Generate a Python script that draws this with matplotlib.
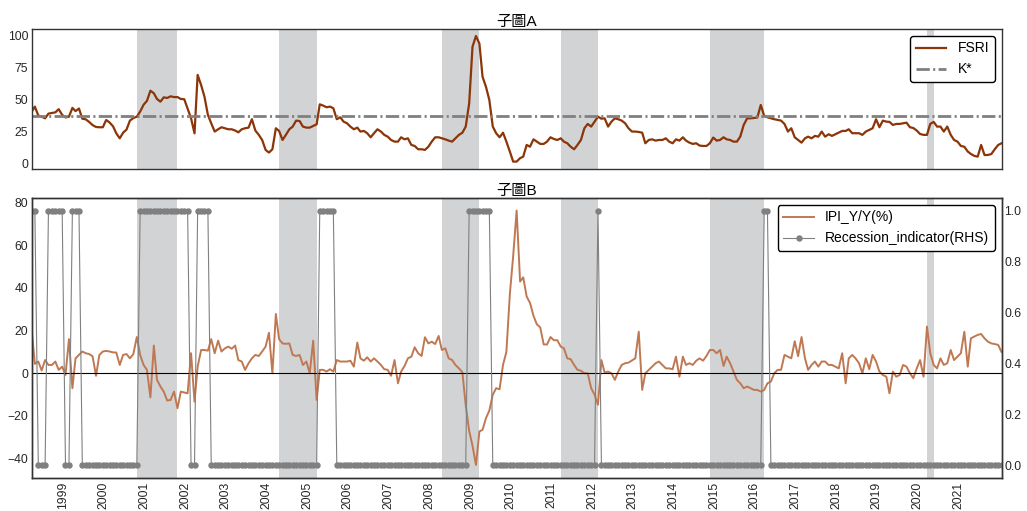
import numpy as np
import pandas as pd
import matplotlib
matplotlib.use("Agg")
import matplotlib.pyplot as plt

plt.rcParams['font.family'] = ['Liberation Sans', 'Noto Sans CJK TC', 'DejaVu Sans']

# monthly data, Feb 1998 - Dec 2021
dates = pd.date_range('1998-02-01', '2021-12-01', freq='MS')

fsri = [
    40.6, 44.5, 37.5, 36.6, 35.3, 39, 39.5, 40, 42.5, 38, 36,            # 1998
    36.6, 43.5, 41, 43, 35, 34.5, 32.5, 30, 28.5, 28.3, 28.3, 34,        # 1999
    32, 29, 23.5, 19.6, 24, 26.5, 33.5, 35.5, 36.6, 40.6, 46, 49,        # 2000
    57, 55, 50.5, 48.4, 51.8, 51.3, 52.6, 52, 52, 50.5, 50.3, 43,        # 2001
    35.3, 23.5, 69.4, 61.5, 52.4, 38, 31.4, 24.9, 26.7, 28.3, 27.5, 26.7,  # 2002
    26.7, 25.7, 24.3, 26.7, 27.5, 28, 34.6, 25.7, 22.3, 18.3, 10.5, 8.4,   # 2003
    11, 27.5, 25.4, 18.3, 22.3, 26.7, 28.8, 33.5, 33.2, 28.8, 28, 28,      # 2004
    29.3, 30.6, 46.3, 45.3, 44, 44.5, 43.2, 34.6, 36.1, 32.7, 31.4, 28.8,  # 2005
    26.7, 28, 24.9, 25.4, 23.6, 20.4, 23.6, 26.7, 24.9, 22.3, 20.9, 18.3,  # 2006
    17, 17, 20.4, 18.8, 19.6, 14.4, 13.6, 11, 11, 10.5, 13, 17,            # 2007
    20.4, 20.4, 19.6, 18.8, 17.8, 17, 19.6, 22.3, 24, 28.8, 47, 91.6,      # 2008
    100, 94, 68, 60, 49.7, 28.8, 23.6, 20.4, 24, 17, 9.2, 1.3,             # 2009
    1.3, 4, 5.2, 14.4, 13, 18.8, 17, 15.2, 15.2, 17, 20.4, 19.1,           # 2010
    18.3, 19.6, 17, 15.7, 13, 11, 14.4, 18.3, 27.5, 30.9, 28.8, 32.7,      # 2011
    36.6, 35, 35.3, 28.8, 32.7, 35.3, 34.6, 33.5, 31.4, 27.5, 24.9, 24.9,  # 2012
    24.6, 24, 15.7, 18.3, 18.8, 17.8, 18.3, 18.3, 19.6, 17, 15.7, 18.8,    # 2013
    17.8, 20.4, 17.8, 16.2, 15.2, 15.7, 13.9, 13.6, 13.6, 15.7, 20.2, 17.8,  # 2014
    18.3, 20.4, 18.8, 18.3, 17, 17, 20.9, 30.1, 35.3, 35.3, 35.6, 35.9,    # 2015
    45.8, 37.2, 36.1, 35.3, 34.6, 34, 33.5, 30.9, 24.9, 27.5, 20.4, 18.3,  # 2016
    16.2, 19.6, 20.9, 19.6, 21.5, 20.9, 24.9, 20.9, 22.8, 21.5, 22.8, 24,  # 2017
    25.4, 25.4, 26.7, 23.6, 23.6, 23.6, 22.3, 24.9, 26.2, 27.5, 34.6, 28.3,  # 2018
    33.5, 32.7, 32.5, 30.1, 30.9, 30.9, 31.4, 31.9, 28.3, 27.7, 25.7, 23,  # 2019
    22.3, 22.3, 30.9, 32.5, 28.8, 28.8, 24.9, 28.8, 22.3, 18.3, 17, 13.6,  # 2020
    13, 9.2, 7.3, 5.8, 5.2, 14.4, 6.5, 6.5, 7.3, 11, 14.4, 15.7,           # 2021
]

ipi = [
    20, 4.4, 5.5, 1.3, 6.2, 3.9, 3.9, 5.5, 1.6, 3.1, -0.8,                 # 1998
    16, -7, 7, 8.6, 10.2, 9.4, 9, 8, -1.2, 8.6, 10.2, 10.5,                # 1999
    10.2, 9.8, 9.7, 3.9, 8.6, 9, 7, 9, 17, 8.6, 3.9, 1.6,                  # 2000
    -11.3, 13, -3.1, -6.2, -8.6, -12.8, -12.5, -8.6, -16.4, -8.6, -9, -9.4,  # 2001
    9.4, -13.3, 3.1, 10.9, 10.9, 10.6, 16, 9.4, 15.3, 10.2, 11.7, 12.5,    # 2002
    11.5, 13, 6.2, 5.5, 1.6, 4.7, 7, 8.6, 8.1, 10.2, 12.5, 19,             # 2003
    0, 27.8, 16, 14, 13.8, 14, 8.6, 8.1, 8.6, 3.9, 5.5, 0,                 # 2004
    15.3, -12.5, 1.6, 1.6, 0.8, 1.9, 0.8, 6.2, 5.5, 5.5, 5.5, 5.9,         # 2005
    3.1, 14.4, 7, 5.9, 7.5, 5.5, 7, 5.5, 3.9, 1.9, 1.6, -1.2,              # 2006
    6.2, -4.7, 0.8, 3.4, 7, 7.8, 12.2, 9.4, 8.1, 16.9, 14, 14.8,           # 2007
    13.7, 17.5, 10.9, 11.7, 7, 6.2, 3.9, 2.3, 0.5, -15, -27, -34,          # 2008
    -43, -27.3, -26.5, -21, -17.5, -10, -7, -7.5, 4, 10, 37, 55,           # 2009
    76.3, 43, 45, 36, 33, 27, 23, 21.5, 13.5, 13.5, 17, 15.5,              # 2010
    15.5, 12.5, 11.7, 7, 6.6, 3.9, 1.6, 1.2, 0, 0, -7, -10,                # 2011
    -14.8, 6.2, 0.3, 0.8, 0, -3.1, 0.8, 3.9, 4.7, 5, 6, 7,                 # 2012
    19.5, -7.8, 0, 1.6, 3.1, 4.7, 5.5, 3.9, 2.3, 2.3, 1.9, 7.8,            # 2013
    -1.6, 7.8, 3.9, 4.7, 3.9, 5.9, 7, 5.9, 8.1, 10.9, 10.9, 9.4,           # 2014
    10.9, 3.4, 7.8, 4.7, 0.8, -3.1, -4.7, -7, -6.2, -7, -7.8, -7.8,        # 2015
    -8.6, -7.8, -4.7, -3.9, 0, 1.6, 1.6, 8.6, 7.8, 7, 15, 8,               # 2016
    17, 7, 1.6, 3.9, 5.5, 3.1, 5.5, 5.5, 3.9, 3.9, 3.1, 2.3,               # 2017
    9.4, -4.7, 7, 8.6, 7, 4.7, 0, 7, 1.9, 8.6, 5.5, 0.8,                   # 2018
    -0.8, -1.6, -9.4, 0.8, -1.6, -0.8, 3.9, 3.1, 0, -2.3, 2.3, 6.2,        # 2019
    -1.6, 21.9, 9.4, 3.9, 2.3, 7, 3.9, 4.7, 10.9, 6.2, 7.8, 9.4,           # 2020
    19.5, 3.1, 16.4, 17.2, 18, 18.4, 16.4, 14.8, 14, 13.7, 13.3, 10,       # 2021
]

recession = [
    1, 1, 0, 0, 0, 1, 1, 1, 1, 1, 0,         # 1998
    0, 1, 1, 1, 0, 0, 0, 0, 0, 0, 0, 0,      # 1999
    0, 0, 0, 0, 0, 0, 0, 0, 0, 1, 1, 1,      # 2000
    1, 1, 1, 1, 1, 1, 1, 1, 1, 1, 1, 1,      # 2001
    0, 0, 1, 1, 1, 1, 0, 0, 0, 0, 0, 0,      # 2002
    0, 0, 0, 0, 0, 0, 0, 0, 0, 0, 0, 0,      # 2003
    0, 0, 0, 0, 0, 0, 0, 0, 0, 0, 0, 0,      # 2004
    0, 0, 1, 1, 1, 1, 1, 0, 0, 0, 0, 0,      # 2005
    0, 0, 0, 0, 0, 0, 0, 0, 0, 0, 0, 0,      # 2006
    0, 0, 0, 0, 0, 0, 0, 0, 0, 0, 0, 0,      # 2007
    0, 0, 0, 0, 0, 0, 0, 0, 0, 0, 1, 1,      # 2008
    1, 1, 1, 1, 1, 0, 0, 0, 0, 0, 0, 0,      # 2009
    0, 0, 0, 0, 0, 0, 0, 0, 0, 0, 0, 0,      # 2010
    0, 0, 0, 0, 0, 0, 0, 0, 0, 0, 0, 0,      # 2011
    1, 0, 0, 0, 0, 0, 0, 0, 0, 0, 0, 0,      # 2012
    0, 0, 0, 0, 0, 0, 0, 0, 0, 0, 0, 0,      # 2013
    0, 0, 0, 0, 0, 0, 0, 0, 0, 0, 0, 0,      # 2014
    0, 0, 0, 0, 0, 0, 0, 0, 0, 0, 0, 0,      # 2015
    0, 1, 1, 0, 0, 0, 0, 0, 0, 0, 0, 0,      # 2016
    0, 0, 0, 0, 0, 0, 0, 0, 0, 0, 0, 0,      # 2017
    0, 0, 0, 0, 0, 0, 0, 0, 0, 0, 0, 0,      # 2018
    0, 0, 0, 0, 0, 0, 0, 0, 0, 0, 0, 0,      # 2019
    0, 0, 0, 0, 0, 0, 0, 0, 0, 0, 0, 0,      # 2020
    0, 0, 0, 0, 0, 0, 0, 0, 0, 0, 0, 0,      # 2021
]

k_star = 37.4

# shaded contraction periods (start, end)
shade_periods = [('2000-09-01', '2001-09-01'), ('2004-03-01', '2005-02-01'),
                 ('2008-03-01', '2009-02-01'), ('2011-02-01', '2012-01-01'),
                 ('2014-10-01', '2016-02-01'), ('2020-02-01', '2020-04-01')]

years = list(range(1999, 2022))

shade_col = '#d1d3d5'
fsri_col = '#8b3508'
ipi_col = '#c07852'
spine_col = '#333333'

fig = plt.figure(figsize=(10.27, 5.11), dpi=100)
ax1 = fig.add_axes([0.0309, 0.6693, 0.9443, 0.274])
ax2 = fig.add_axes([0.0309, 0.0646, 0.9443, 0.548], sharex=ax1)
ax3 = ax2.twinx()

for start, end in shade_periods:
    ax1.axvspan(pd.Timestamp(start), pd.Timestamp(end), color=shade_col, lw=0, zorder=0)
    ax2.axvspan(pd.Timestamp(start), pd.Timestamp(end), color=shade_col, lw=0, zorder=0)

# 子圖A
ax1.plot(dates, fsri, color=fsri_col, lw=1.6, label='FSRI')
ax1.axhline(k_star, color='grey', lw=2, ls=(0, (4.8, 1.2, 0.75, 1.2)), label='K*')
ax1.set_ylim(-4.5, 105.5)
ax1.set_yticks([0, 25, 50, 75, 100])
ax1.set_title('子圖A', fontsize=11, pad=2)
ax1.legend(loc='upper right', fontsize=10, frameon=True, edgecolor='black',
           framealpha=1, handlelength=2.2)

# 子圖B
l1, = ax2.plot(dates, ipi, color=ipi_col, lw=1.4, label='IPI_Y/Y(%)')
ax2.axhline(0, color='black', lw=0.8)
ax2.set_ylim(-49.1, 82.2)
ax2.set_yticks([-40, -20, 0, 20, 40, 60, 80])
l2, = ax3.plot(dates, recession, color='grey', lw=0.8, marker='o', ms=3.6,
               label='Recession_indicator(RHS)')
ax3.set_ylim(-0.05, 1.05)
ax2.set_title('子圖B', fontsize=11, pad=2)
ax3.legend([l1, l2], ['IPI_Y/Y(%)', 'Recession_indicator(RHS)'], loc='upper right',
           fontsize=10, frameon=True, edgecolor='black', framealpha=1, handlelength=2.2)

ax2.set_xlim(dates[0], dates[-1])
ax2.set_xticks([pd.Timestamp(f'{y}-01-01') for y in years])
ax2.set_xticklabels([str(y) for y in years], rotation=90, ha='right')

for ax in [ax1, ax2, ax3]:
    ax.tick_params(length=0, labelsize=8.7, labelcolor='#262626', pad=2.5)
    for s in ax.spines.values():
        s.set_color(spine_col)
        s.set_linewidth(1.0)
ax1.tick_params(labelbottom=False)
ax3.tick_params(pad=2)

fig.savefig('out.png', dpi=100)
